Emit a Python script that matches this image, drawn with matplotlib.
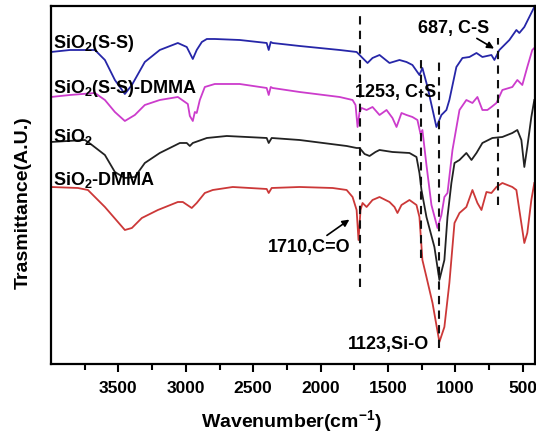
import numpy as np
import matplotlib
matplotlib.use('Agg')
import matplotlib.pyplot as plt

plt.rcParams['font.family'] = 'Liberation Sans'
plt.rcParams['font.weight'] = 'bold'
plt.rcParams['mathtext.fontset'] = 'custom'
plt.rcParams['mathtext.rm'] = 'Liberation Sans:bold'
plt.rcParams['mathtext.bf'] = 'Liberation Sans:bold'

# FTIR spectra, wavenumber (cm-1) and transmittance (arbitrary, offset)
wn_ss = [4000, 3859, 3674, 3600, 3526, 3452, 3400, 3304, 3193, 3059, 2993, 2948, 2919,
         2881, 2844, 2785, 2600, 2400, 2385, 2370, 2356, 2156, 1859, 1733, 1689, 1652,
         1615, 1563, 1489, 1415, 1363, 1319, 1267, 1245, 1207, 1141, 1104, 1067, 1045,
         993, 948, 896, 844, 800, 733, 711, 674, 600, 548, 526, 489, 452, 415]
t_ss = [312, 314, 314, 304, 284, 270, 279, 302, 314, 321, 317, 305, 314,
        322, 325, 325, 324, 321, 314, 322, 321, 318, 314, 312, 306, 301,
        306, 309, 301, 304, 302, 299, 289, 296, 277, 237, 249, 254, 264,
        297, 306, 307, 311, 307, 309, 304, 314, 324, 334, 331, 337, 347, 357]

wn_ss_dmma = [4000, 3859, 3674, 3600, 3526, 3452, 3378, 3304, 3193, 3059, 2985, 2970,
              2948, 2933, 2919, 2896, 2859, 2785, 2600, 2400, 2385, 2370, 2356, 2156,
              1859, 1763, 1741, 1726, 1711, 1696, 1659, 1615, 1563, 1511, 1467, 1437,
              1400, 1363, 1319, 1282, 1259, 1245, 1215, 1178, 1133, 1104, 1082, 1059,
              1022, 970, 919, 874, 837, 800, 763, 733, 696, 652, 578, 541, 504, 467,
              430, 415]
t_ss_dmma = [267, 269, 271, 264, 252, 243, 249, 259, 264, 267, 260, 248,
             243, 252, 251, 264, 277, 280, 280, 276, 269, 277, 276, 272,
             267, 264, 259, 237, 252, 256, 254, 257, 249, 254, 246, 237,
             251, 249, 247, 244, 230, 234, 199, 159, 136, 149, 167, 171,
             214, 254, 264, 261, 267, 254, 254, 257, 261, 274, 277, 284, 279, 297,
             314, 316]

wn_sio2 = [4000, 3748, 3696, 3600, 3526, 3452, 3378, 3304, 3193, 3044, 2993, 2970,
           2948, 2844, 2696, 2400, 2385, 2363, 2156, 1807, 1733, 1711, 1674, 1637,
           1593, 1563, 1467, 1341, 1289, 1267, 1252, 1215, 1156, 1119, 1082, 1059,
           1030, 1007, 970, 919, 881, 844, 800, 726, 652, 578, 541, 511, 489, 467,
           437, 415]
t_sio2 = [222, 224, 219, 209, 192, 186, 187, 201, 211, 221, 221, 218,
          221, 226, 228, 226, 221, 226, 224, 218, 216, 216, 210, 208,
          212, 214, 212, 211, 207, 191, 174, 147, 117, 84, 104, 147,
          181, 201, 204, 211, 204, 211, 221, 226, 227, 231, 234, 224, 197, 217,
          247, 264]

wn_dmma = [4000, 3800, 3726, 3600, 3452, 3400, 3326, 3207, 3059, 3022, 2956, 2919,
           2859, 2800, 2652, 2400, 2385, 2363, 2156, 1911, 1807, 1763, 1733, 1719,
           1704, 1689, 1659, 1615, 1563, 1489, 1452, 1430, 1400, 1341, 1289, 1267,
           1245, 1215, 1170, 1119, 1082, 1045, 1007, 970, 919, 874, 837, 807, 770,
           733, 696, 652, 578, 548, 526, 489, 467, 437, 415]
t_dmma = [177, 176, 174, 157, 134, 136, 146, 154, 162, 162, 156, 161,
          171, 174, 177, 175, 171, 176, 177, 176, 174, 167, 154, 124,
          154, 161, 157, 164, 167, 162, 157, 151, 159, 164, 159, 147,
          104, 87, 61, 22, 37, 81, 141, 151, 157, 174, 161, 154, 172,
          171, 177, 181, 177, 174, 154, 121, 131, 164, 181]

# marker lines: position and vertical extent
mark_wn = [1710, 1253, 1123, 687]
mark_lo = [77, 106, 16, 159]
mark_hi = [350, 307, 304, 326]

fig = plt.figure(figsize=(5.36, 4.34), dpi=100)
ax = fig.add_axes([0.0951, 0.1613, 0.903, 0.8249])

ax.plot(wn_ss, t_ss, color='#2626a8', lw=1.3)
ax.plot(wn_ss_dmma, t_ss_dmma, color='#cc3ccc', lw=1.3)
ax.plot(wn_sio2, t_sio2, color='#222222', lw=1.3)
ax.plot(wn_dmma, t_dmma, color='#cc3838', lw=1.3)

for w, lo, hi in zip(mark_wn, mark_lo, mark_hi):
    ax.vlines(w, lo, hi, colors='#111111', linestyles=(0, (4, 3)), lw=1.5)

fs = 13
ax.text(3985, 316, r'SiO$_\mathbf{2}$(S-S)', fontsize=fs, fontweight='bold')
ax.text(3985, 271, r'SiO$_\mathbf{2}$(S-S)-DMMA', fontsize=fs, fontweight='bold')
ax.text(3985, 222, r'SiO$_\mathbf{2}$', fontsize=fs, fontweight='bold')
ax.text(3985, 179, r'SiO$_\mathbf{2}$-DMMA', fontsize=fs, fontweight='bold')
ax.text(1748, 267, '1253, C-S', fontsize=fs, fontweight='bold')
ax.text(1281, 331, '687, C-S', fontsize=fs, fontweight='bold')
ax.text(1800, 15, '1123,Si-O', fontsize=fs, fontweight='bold')
ax.text(2393, 112, '1710,C=O', fontsize=fs, fontweight='bold')

ax.annotate('', xy=(696, 314), xytext=(859, 327),
            arrowprops=dict(arrowstyle='-|>', color='black', lw=1.2, mutation_scale=10))
ax.annotate('', xy=(1770, 146), xytext=(1970, 127),
            arrowprops=dict(arrowstyle='-|>', color='black', lw=1.2, mutation_scale=10))

ax.set_xlim(4000, 410)
ax.set_ylim(0, 358)
ax.set_xticks([3500, 3000, 2500, 2000, 1500, 1000, 500])
ax.set_xticks([3750, 3250, 2750, 2250, 1750, 1250, 750], minor=True)
ax.set_yticks([])
ax.tick_params(axis='x', which='major', direction='out', length=6, width=1.5,
               labelsize=12.5, pad=6)
ax.tick_params(axis='x', which='minor', direction='out', length=4, width=1.5)
for s in ax.spines.values():
    s.set_linewidth(1.6)

ax.set_xlabel(r'Wavenumber(cm$^\mathbf{-1}$)', fontsize=14, fontweight='bold')
ax.xaxis.set_label_coords(0.496, -0.125)
ax.set_ylabel('Trasmittance(A.U.)', fontsize=14, fontweight='bold')
ax.yaxis.set_label_coords(-0.04, 0.45)

fig.savefig('out.png', dpi=100)
